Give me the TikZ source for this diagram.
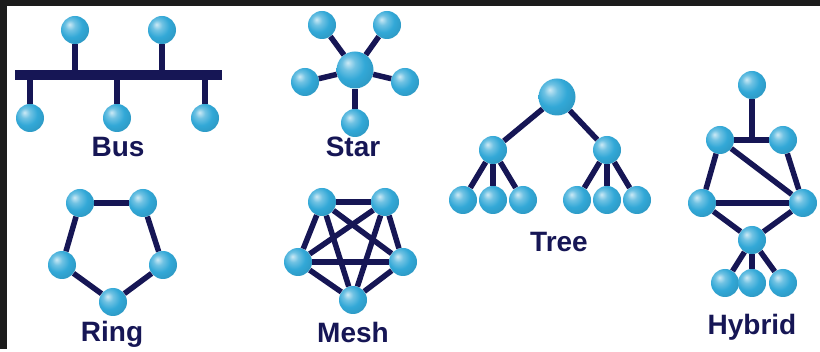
\documentclass[tikz,border=0pt]{standalone}
\usepackage{fontspec}
\setmainfont{Liberation Sans}
\usepackage{xcolor}
\usepackage{tikz}

\definecolor{ballblue}{RGB}{50,168,215}
\definecolor{linknavy}{RGB}{22,22,85}
\definecolor{framegrey}{RGB}{28,28,28}
\pgfdeclareradialshading{sphere}{\pgfqpoint{-10bp}{10bp}}{color(0bp)=(ballblue!25!white); color(9bp)=(ballblue!70!white); color(20bp)=(ballblue); color(40bp)=(ballblue!85!black); color(64bp)=(ballblue!55!black)}

\begin{document}
\begin{tikzpicture}[x=1pt, y=-1pt,
        dev/.style={circle, inner sep=0pt, minimum size=28pt, shading=sphere},
        hub/.style={dev, minimum size=37pt},
        link/.style={draw=linknavy, line width=5.5pt},
        caption/.style={anchor=base, text=linknavy, font=\bfseries\fontsize{28}{28}\selectfont}]

        % frame
        \fill[framegrey] (0,0) rectangle (820,349);
        \fill[white] (7,6) rectangle (820,349);

        % bus
        \node[dev] (b1) at (75,30) {};
        \node[dev] (b2) at (162,30) {};
        \node[dev] (b3) at (30,118) {};
        \node[dev] (b4) at (117,118) {};
        \node[dev] (b5) at (205,118) {};
        \coordinate (busl) at (15,75);
        \coordinate (busr) at (222,75);
        \draw[link, line width=10pt] (busl) -- (busr);
        \path[link]
        (b1) edge (b1 |- busl)
        (b2) edge (b2 |- busl)
        (b3) edge (b3 |- busl)
        (b4) edge (b4 |- busl)
        (b5) edge (b5 |- busl);
        \node[caption] (busname) at (118,157) {Bus};

        % star
        \node[hub] (s0) at (355,70) {};
        \node[dev] (s1) at (322,25) {};
        \node[dev] (s2) at (387,25) {};
        \node[dev] (s3) at (305,82) {};
        \node[dev] (s4) at (405,82) {};
        \node[dev] (s5) at (355,123) {};
        \path[link]
        (s0) edge (s1)
        (s0) edge (s2)
        (s0) edge (s3)
        (s0) edge (s4)
        (s0) edge (s5);
        \node[caption] (starname) at (353,157) {Star};

        % tree
        \node[hub] (t0) at (557,97) {};
        \node[dev] (t1) at (493,150) {};
        \node[dev] (t2) at (607,150) {};
        \node[dev] (t11) at (463,200) {};
        \node[dev] (t12) at (493,200) {};
        \node[dev] (t13) at (523,200) {};
        \node[dev] (t21) at (577,200) {};
        \node[dev] (t22) at (607,200) {};
        \node[dev] (t23) at (637,200) {};
        \path[link]
        (t0) edge (t1)
        (t0) edge (t2)
        (t1) edge (t11)
        (t1) edge (t12)
        (t1) edge (t13)
        (t2) edge (t21)
        (t2) edge (t22)
        (t2) edge (t23);
        \node[caption] (treename) at (559,252) {Tree};

        % ring
        \node[dev] (r1) at (80,203) {};
        \node[dev] (r2) at (143,203) {};
        \node[dev] (r3) at (163,265) {};
        \node[dev] (r4) at (113,302) {};
        \node[dev] (r5) at (62,265) {};
        \path[link]
        (r1) edge (r2)
        (r2) edge (r3)
        (r3) edge (r4)
        (r4) edge (r5)
        (r5) edge (r1);
        \node[caption] (ringname) at (112,342) {Ring};

        % mesh
        \node[dev] (m1) at (322,202) {};
        \node[dev] (m2) at (385,202) {};
        \node[dev] (m3) at (403,262) {};
        \node[dev] (m4) at (353,300) {};
        \node[dev] (m5) at (298,262) {};
        \path[link]
        (m1) edge (m2)
        (m2) edge (m3)
        (m3) edge (m4)
        (m4) edge (m5)
        (m5) edge (m1)
        (m1) edge (m3)
        (m1) edge (m4)
        (m2) edge (m4)
        (m2) edge (m5)
        (m3) edge (m5);
        \node[caption] (meshname) at (353,343) {Mesh};

        % hybrid
        \node[dev] (h1) at (752,85) {};
        \node[dev] (h2) at (720,140) {};
        \node[dev] (h3) at (783,140) {};
        \node[dev] (h4) at (702,203) {};
        \node[dev] (h5) at (803,203) {};
        \node[dev] (h6) at (752,240) {};
        \node[dev] (h7) at (725,283) {};
        \node[dev] (h8) at (752,283) {};
        \node[dev] (h9) at (783,283) {};
        \path[link]
        (h1) edge (h1 |- h2)
        (h2) edge (h3)
        (h2) edge (h4)
        (h3) edge (h5)
        (h2) edge (h5)
        (h4) edge (h5)
        (h4) edge (h6)
        (h5) edge (h6)
        (h6) edge (h7)
        (h6) edge (h8)
        (h6) edge (h9);
        \node[caption] (hybridname) at (752,335) {Hybrid};

\end{tikzpicture}
\end{document}
